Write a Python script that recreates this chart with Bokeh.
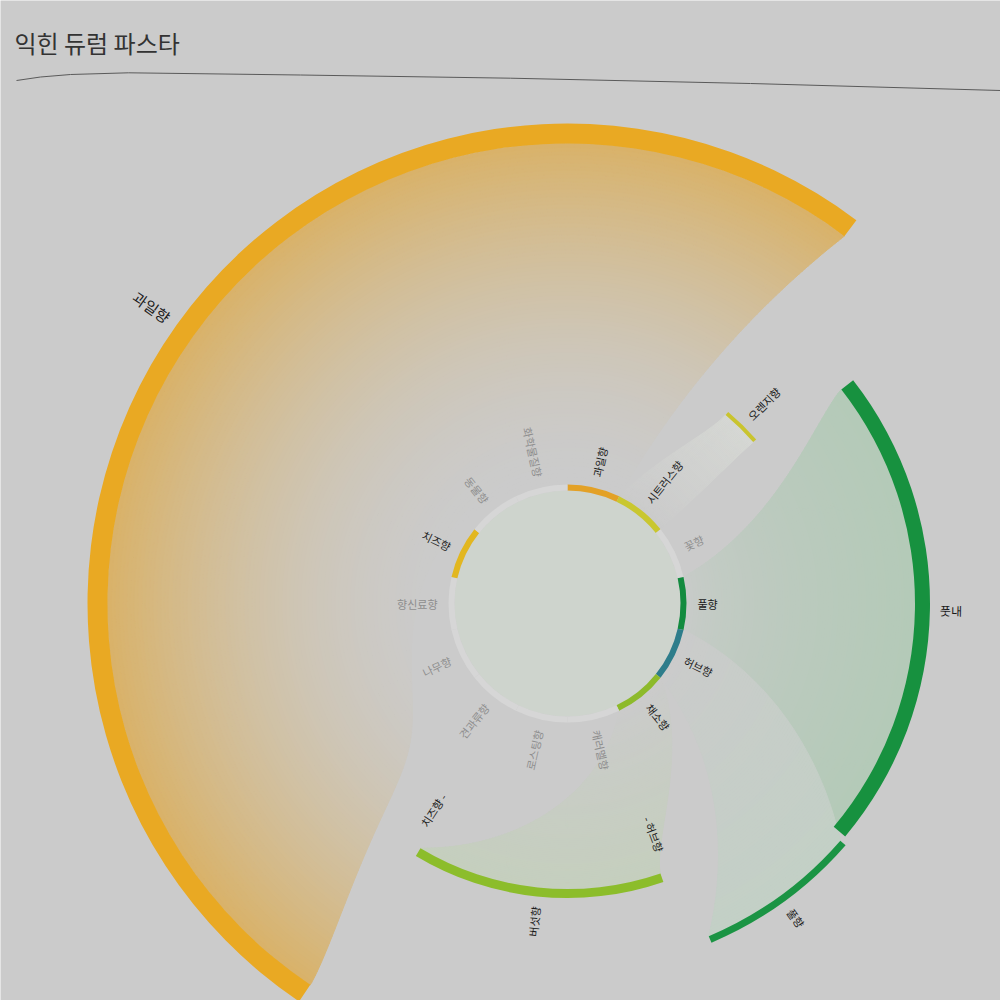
import numpy as np
from bokeh.plotting import figure
from bokeh.models import Range1d, ColumnDataSource
from bokeh.embed import file_html
from bokeh.resources import INLINE
from bokeh.core.properties import value

# ---------------- data ----------------
title_text = "익힌 듀럼 파스타"

inner_labels = ["과일향", "시트러스향", "꽃향", "풀향", "허브향", "채소향", "캐러멜향",
                "로스팅향", "견과류향", "나무향", "향신료향", "치즈향", "동물향", "화학물질향"]
inner_active = [True, True, False, True, True, True, False,
                False, False, False, False, True, False, False]
inner_colors = ["#e3a126", "#c9c72f", "#d6d6d6", "#138b3f", "#2e7d8b", "#8dba2b", "#d6d6d6",
                "#d6d6d6", "#d6d6d6", "#d6d6d6", "#d6d6d6", "#e2b720", "#d6d6d6", "#d6d6d6"]

outer_labels = ["과일향", "오렌지향", "풋내", "풀향", "버섯향"]
outer_source = ["과일향", "시트러스향", "풀향", "허브향", "채소향"]
outer_start_deg = [214, 40, 52, 131, 161]     # clockwise from 12 o'clock
outer_end_deg = [397, 49, 130, 157, 211]
outer_colors = ["#e9a923", "#c9c42e", "#17913f", "#1b9444", "#8cbd2b"]
flow_fill_colors = ["#d9b269", "#d6d8d4", "#b4cab8", "#c3d0c6", "#c5cfbe"]

note_labels = ["치즈향 -", "- 허브향"]
note_angle_deg = [213, 159.5]

# ---------------- layout / style ----------------
BG = "#cbcbcb"
INTERIOR = "#ced4cd"
CX, CY = 567.0, 397.0
R_RING, RING_W = 116.0, 6.0
R_LABEL = 130.0
outer_radius = [470, 248, 355, 365, 290]
outer_width = [20, 4, 15, 7, 9]
outer_label_size = ["15px", "11px", "12px", "11px", "11px"]
# boundary easing per flow: ((k, c, q) for start edge, (k, c, q) for end edge)
flow_ease = [((12.0, 0.12, 1.4), (1.0, 0.0, 1.0)),
             ((1.5, 0.0, 1.0), (1.5, 0.0, 1.0)),
             ((1.3, 0.0, 1.0), (1.3, 0.0, 1.0)),
             ((1.0, 0.0, 1.0), (1.0, 0.0, 1.0)),
             ((1.5, 0.0, 1.0), (1.0, 0.0, 1.0))]
flow_gamma = [1.8, 1.0, 0.5, 0.8, 0.8]
R_NOTE = 228.0
FONT = value("Noto Sans CJK KR")
SEG = 360.0 / len(inner_labels)


def hex2rgb(h):
    h = h.lstrip("#")
    return np.array([int(h[i:i + 2], 16) for i in (0, 2, 4)], dtype=float)


def mix(c1, c2, w):
    c = hex2rgb(c1) * (1 - w) + hex2rgb(c2) * w
    return "#%02x%02x%02x" % tuple(int(round(v)) for v in c)


def ease(t, prm):
    k, c, q = prm
    return (1 - (1 - t) ** k) * (1 - c * (1 - t) ** q)


def px(theta_deg, r):
    th = np.radians(theta_deg)
    return CX + r * np.sin(th), CY + r * np.cos(th)


p = figure(width=1000, height=1000, output_backend="svg", toolbar_location=None,
           x_range=Range1d(0, 1000), y_range=Range1d(0, 1000),
           x_axis_location=None, y_axis_location=None, min_border=0,
           background_fill_color=BG, border_fill_color=BG, outline_line_color=None)
p.grid.visible = False

# ---- flows (gradient bands) ----
NB = 90
fx, fy, fc = [], [], []
for f, src in enumerate(outer_source):
    i = inner_labels.index(src)
    b0, b1 = i * SEG, (i + 1) * SEG
    a0, a1 = float(outer_start_deg[f]), float(outer_end_deg[f])
    shift = 360 * round(((b0 + b1) / 2 - (a0 + a1) / 2) / 360)
    a0 += shift
    a1 += shift
    r0 = R_RING + RING_W / 2
    r1 = outer_radius[f] - outer_width[f] / 2
    el, eh = flow_ease[f]
    ts = np.linspace(0, 1, NB + 1)
    for k in range(NB):
        t0, t1 = ts[k], ts[k + 1]
        ra, rb = r0 + (r1 - r0) * t0, r0 + (r1 - r0) * t1
        loa, hia = b0 + (a0 - b0) * ease(t0, el), b1 + (a1 - b1) * ease(t0, eh)
        lob, hib = b0 + (a0 - b0) * ease(t1, el), b1 + (a1 - b1) * ease(t1, eh)
        th_a = np.linspace(loa, hia, 60)
        th_b = np.linspace(hib, lob, 60)
        xa, ya = px(th_a, ra)
        xb, yb = px(th_b, rb)
        fx.append(np.concatenate([xa, xb]).tolist())
        fy.append(np.concatenate([ya, yb]).tolist())
        w = ((t0 + t1) / 2) ** flow_gamma[f]
        fc.append(mix(BG, flow_fill_colors[f], w))
p.patches(xs=fx, ys=fy, fill_color=fc, line_color=fc, line_width=1)

# ---- interior of inner ring ----
p.circle(x=[CX], y=[CY], radius=R_RING - RING_W / 2, fill_color=INTERIOR, line_color=None)

# ---- inner ring ----
n = len(inner_labels)
th_s = np.arange(n) * SEG
th_e = th_s + SEG
ring = ColumnDataSource(dict(x=[CX] * n, y=[CY] * n,
                             sa=np.radians(90 - th_e), ea=np.radians(90 - th_s),
                             c=inner_colors))
p.annular_wedge(x="x", y="y", inner_radius=R_RING - RING_W / 2, outer_radius=R_RING + RING_W / 2,
                start_angle="sa", end_angle="ea", fill_color="c", line_color=None, source=ring)

# ---- outer arcs ----
m = len(outer_labels)
oa = ColumnDataSource(dict(x=[CX] * m, y=[CY] * m,
                           ir=[r - w / 2 for r, w in zip(outer_radius, outer_width)],
                           orr=[r + w / 2 for r, w in zip(outer_radius, outer_width)],
                           sa=[np.radians(90 - e) for e in outer_end_deg],
                           ea=[np.radians(90 - s) for s in outer_start_deg],
                           c=outer_colors))
p.annular_wedge(x="x", y="y", inner_radius="ir", outer_radius="orr",
                start_angle="sa", end_angle="ea", fill_color="c", line_color=None, source=oa)


# ---- radial labels ----
def radial_text(labels, thetas, radii, colors, sizes):
    groups = {"left": dict(x=[], y=[], t=[], a=[], c=[], s=[]),
              "right": dict(x=[], y=[], t=[], a=[], c=[], s=[])}
    for lab, th, r, c, s in zip(labels, thetas, radii, colors, sizes):
        th = th % 360
        x, y = px(th, r)
        phi = np.radians(90 - th)
        if th <= 180:
            g = groups["left"]
            ang = phi
        else:
            g = groups["right"]
            ang = phi + np.pi
        g["x"].append(x); g["y"].append(y); g["t"].append(lab)
        g["a"].append(ang); g["c"].append(c); g["s"].append(s)
    for align, g in groups.items():
        if not g["x"]:
            continue
        p.text(x="x", y="y", text="t", angle="a", text_color="c", text_font_size="s",
               text_align=align, text_baseline="middle", text_font=FONT,
               source=ColumnDataSource(g))


radial_text(inner_labels, (np.arange(n) + 0.5) * SEG, [R_LABEL] * n,
            ["#1a1a1a" if a else "#8e8e8e" for a in inner_active], ["11px"] * n)

out_mid = [(s + e) / 2 for s, e in zip(outer_start_deg, outer_end_deg)]
out_lab_r = [r + w / 2 + 10 for r, w in zip(outer_radius, outer_width)]
radial_text(outer_labels, out_mid, out_lab_r, ["#1a1a1a"] * m, outer_label_size)

radial_text(note_labels, note_angle_deg, [R_NOTE] * len(note_labels),
            ["#1a1a1a"] * len(note_labels), ["11px"] * len(note_labels))

# ---- title and rule ----
p.text(x=[14], y=[1000 - 42], text=[title_text], text_font=FONT, text_font_size="24px",
       text_color="#333333", text_baseline="middle", text_align="left")
rule_x = np.array([16, 40, 70, 128, 300, 510, 750, 1000], dtype=float)
rule_y = 1000 - np.array([80, 76.5, 74, 72.3, 74.5, 77.7, 83, 90])
p.line(x=rule_x, y=rule_y, line_color="#5a5a5a", line_width=1)

open("out.html", "w").write(file_html(p, INLINE))
